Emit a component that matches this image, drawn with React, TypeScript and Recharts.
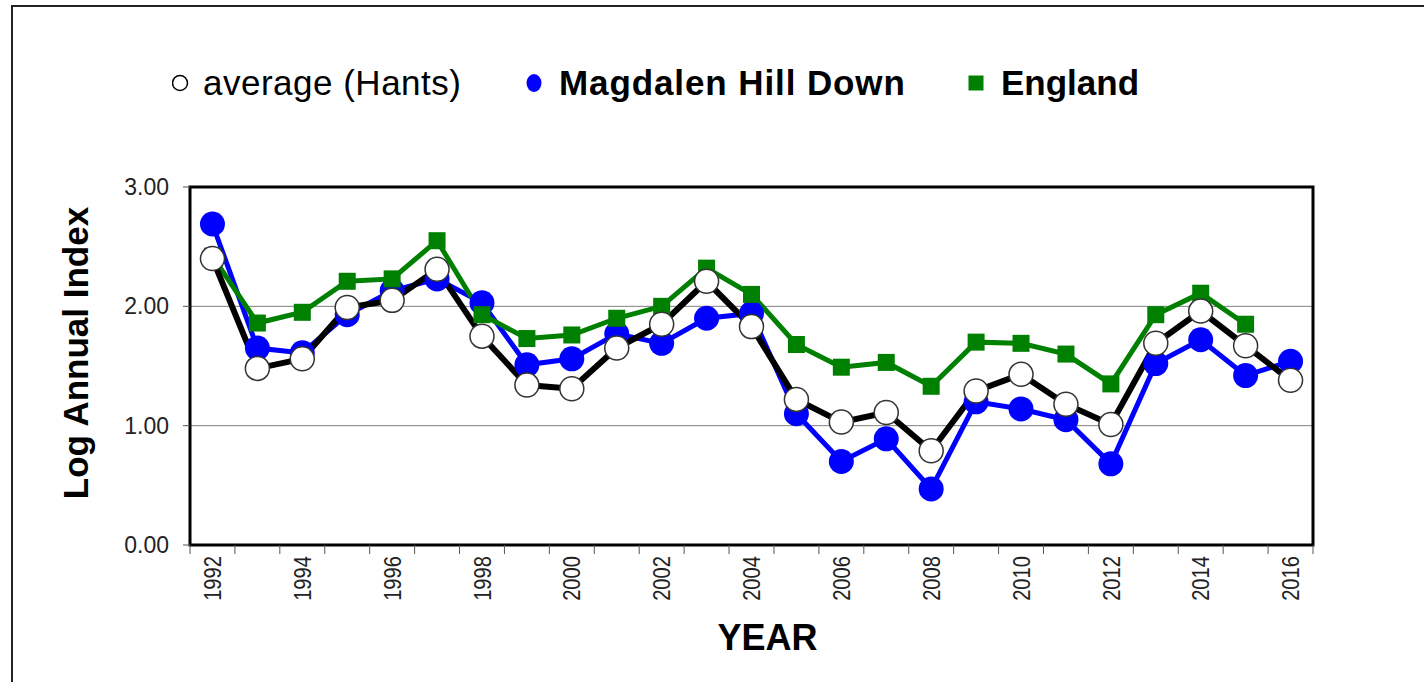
import React from 'react';
import { LineChart, Line, XAxis, YAxis, CartesianGrid, Legend, ReferenceArea } from 'recharts';

// values
const years = [
  1992, 1993, 1994, 1995, 1996, 1997, 1998, 1999, 2000, 2001, 2002, 2003, 2004,
  2005, 2006, 2007, 2008, 2009, 2010, 2011, 2012, 2013, 2014, 2015, 2016,
];
const averageHants = [
  2.40, 1.48, 1.56, 1.99, 2.05, 2.31, 1.75, 1.34, 1.31, 1.65, 1.85, 2.21, 1.83,
  1.22, 1.03, 1.11, 0.79, 1.29, 1.43, 1.18, 1.01, 1.69, 1.96, 1.67, 1.38,
];
const magdalenHillDown = [
  2.69, 1.65, 1.61, 1.93, 2.13, 2.23, 2.03, 1.51, 1.56, 1.77, 1.69, 1.90, 1.94,
  1.10, 0.70, 0.89, 0.47, 1.20, 1.14, 1.05, 0.68, 1.52, 1.72, 1.42, 1.54,
];
const england = [
  2.42, 1.86, 1.95, 2.21, 2.23, 2.55, 1.93, 1.73, 1.76, 1.90, 2.00, 2.32, 2.10,
  1.68, 1.49, 1.53, 1.33, 1.70, 1.69, 1.60, 1.35, 1.93, 2.11, 1.85, null,
];
const yTicks = [0, 1, 2, 3];

const data = years.map((year, i) => ({
  year,
  average: averageHants[i],
  magdalen: magdalenHillDown[i],
  england: england[i],
}));

const FONT = '"Liberation Sans", Arial, Helvetica, sans-serif';
const BLUE = '#0000ff';
const GREEN = '#008000';

function YearTick(props: any) {
  const { x, y, payload, width, index } = props;
  const step = (width || 1123) / years.length;
  const ty = y + 11;
  return (
    <g>
      <line x1={x - step / 2} y1={y} x2={x - step / 2} y2={y + 9} stroke="#555" strokeWidth={1} />
      {index === years.length - 1 && (
        <line x1={x + step / 2} y1={y} x2={x + step / 2} y2={y + 9} stroke="#555" strokeWidth={1} />
      )}
      {payload.value % 2 === 0 && (
        <text
          x={0}
          y={0}
          dy="0.36em"
          transform={`translate(${x}, ${ty}) rotate(-90) scale(0.84, 1)`}
          textAnchor="end"
          fontSize={24}
          fontFamily={FONT}
          fill="#222"
        >
          {payload.value}
        </text>
      )}
    </g>
  );
}

const WhiteDot = (props: any) => {
  const { cx, cy } = props;
  if (cx == null || cy == null) return null;
  return <circle cx={cx} cy={cy} r={12} fill="#fff" stroke="#333" strokeWidth={1.5} />;
};

const BlueDot = (props: any) => {
  const { cx, cy } = props;
  if (cx == null || cy == null) return null;
  return <circle cx={cx} cy={cy} r={12.5} fill={BLUE} />;
};

const GreenSquare = (props: any) => {
  const { cx, cy, value } = props;
  if (cx == null || cy == null || value == null) return null;
  return <rect x={cx - 8.5} y={cy - 8.5} width={17} height={17} fill={GREEN} />;
};

function ChartLegend() {
  const items = [
    {
      label: 'average (Hants)',
      bold: false,
      left: 172,
      spacing: 0.5,
      marker: <circle cx={8} cy={9} r={7.5} fill="#fff" stroke="#000" strokeWidth={1.5} />,
    },
    {
      label: 'Magdalen Hill Down',
      bold: true,
      left: 526,
      spacing: 0.9,
      marker: <ellipse cx={8} cy={9} rx={7.5} ry={9} fill={BLUE} />,
    },
    {
      label: 'England',
      bold: true,
      left: 968,
      spacing: 0,
      marker: <rect x={0.5} y={1.5} width={15} height={15} fill={GREEN} />,
    },
  ];
  return (
    <div style={{ position: 'relative', width: 1424, height: 46, fontFamily: FONT }}>
      {items.map((it) => (
        <div
          key={it.label}
          style={{
            position: 'absolute',
            left: it.left,
            top: 0,
            height: 46,
            display: 'flex',
            alignItems: 'center',
            whiteSpace: 'nowrap',
          }}
        >
          <svg width={17} height={19} style={{ marginRight: it.bold ? 16 : 14 }}>
            {it.marker}
          </svg>
          <span
            style={{
              fontSize: 35,
              fontWeight: it.bold ? 700 : 400,
              letterSpacing: it.spacing,
              color: '#000',
              lineHeight: '46px',
            }}
          >
            {it.label}
          </span>
        </div>
      ))}
    </div>
  );
}

export default function App() {
  return (
    <div style={{ position: 'absolute', left: 0, top: 0, width: 1424, height: 682, background: '#fff' }}>
      <div
        style={{
          position: 'absolute',
          left: 11,
          top: 5,
          width: 1413,
          height: 677,
          borderTop: '2px solid #222',
          borderLeft: '2px solid #222',
          boxSizing: 'border-box',
        }}
      />
      <LineChart
        width={1424}
        height={682}
        data={data}
        margin={{ top: 187, right: 111, bottom: 0, left: 0 }}
        style={{ position: 'absolute', left: 0, top: 0, fontFamily: FONT }}
      >
        <CartesianGrid vertical={false} stroke="#808080" strokeWidth={1} />
        <XAxis
          dataKey="year"
          type="number"
          domain={[1991.5, 2016.5]}
          ticks={years}
          interval={0}
          height={137}
          axisLine={false}
          tickLine={false}
          tickSize={0}
          tickMargin={0}
          tick={<YearTick />}
          label={{
            value: 'YEAR',
            position: 'insideBottom',
            offset: 32,
            dx: 16,
            style: { fontSize: 36, fontWeight: 700, fill: '#000', fontFamily: FONT },
          }}
        />
        <YAxis
          domain={[0, 3]}
          ticks={yTicks}
          width={190}
          axisLine={false}
          tickLine={{ stroke: '#555', strokeWidth: 1 }}
          tickSize={7}
          tickMargin={14}
          tickFormatter={(v: number) => v.toFixed(2)}
          tick={{ fontSize: 23, fill: '#222', fontFamily: FONT }}
          label={{
            content: () => (
              <text
                x={75}
                y={353}
                transform="rotate(-90, 75, 353)"
                textAnchor="middle"
                dy="0.36em"
                fontSize={35}
                fontWeight={700}
                fontFamily={FONT}
                fill="#000"
              >
                Log Annual Index
              </text>
            ),
          }}
        />
        <ReferenceArea
          x1={1991.5}
          x2={2016.5}
          y1={0}
          y2={3}
          fill="none"
          stroke="#000"
          strokeWidth={3}
          ifOverflow="visible"
        />
        <Legend
          verticalAlign="middle"
          align="center"
          wrapperStyle={{ top: 60, left: 0, width: 1424, height: 46 }}
          content={() => <ChartLegend />}
        />
        <Line
          dataKey="magdalen"
          name="Magdalen Hill Down"
          stroke={BLUE}
          strokeWidth={5}
          dot={<BlueDot />}
          activeDot={false}
          isAnimationActive={false}
        />
        <Line
          dataKey="england"
          name="England"
          stroke={GREEN}
          strokeWidth={5}
          dot={<GreenSquare />}
          activeDot={false}
          isAnimationActive={false}
        />
        <Line
          dataKey="average"
          name="average (Hants)"
          stroke="#000"
          strokeWidth={6}
          dot={<WhiteDot />}
          activeDot={false}
          isAnimationActive={false}
        />
      </LineChart>
    </div>
  );
}
